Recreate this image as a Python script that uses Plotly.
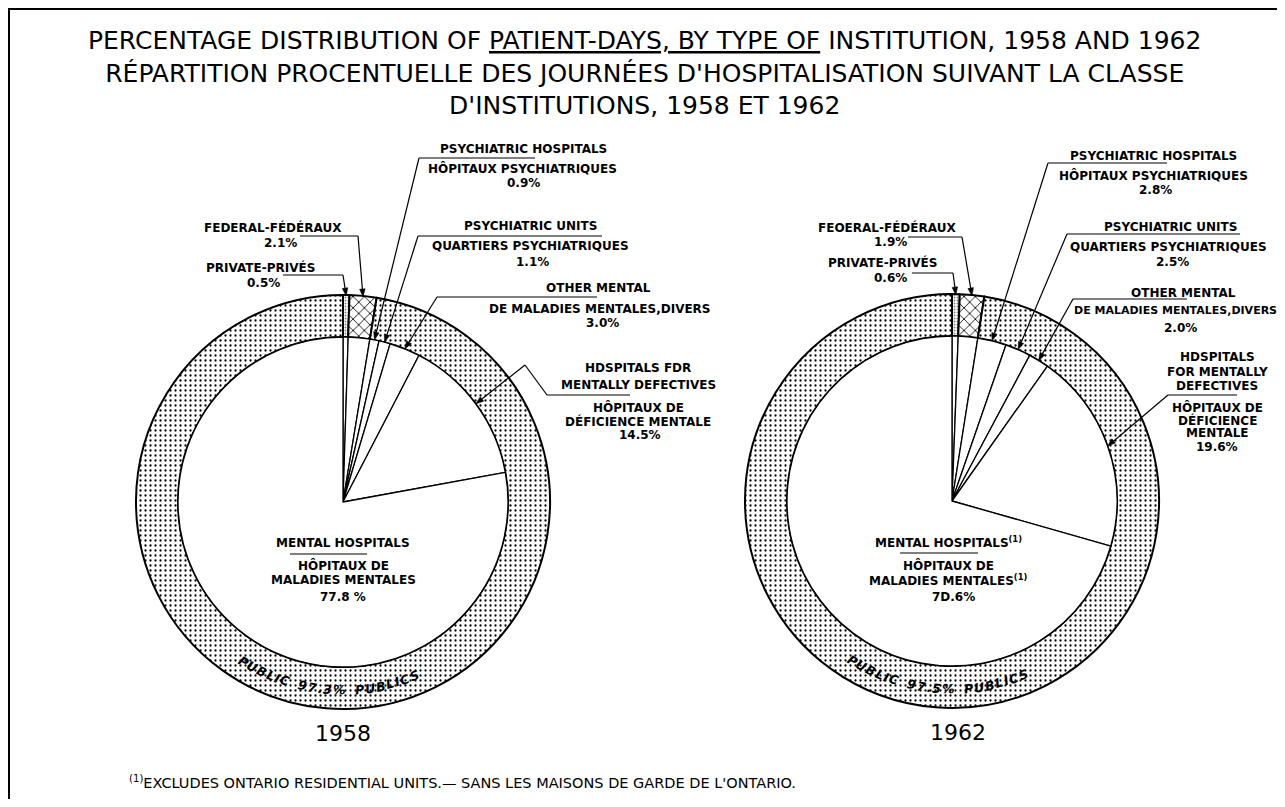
import math
import plotly.graph_objects as go

# ---------------- data ----------------
years = ["1958", "1962"]
categories = ["Private", "Federal", "Psychiatric hospitals", "Psychiatric units",
              "Other mental", "Hospitals for mentally defectives", "Mental hospitals"]
values_1958 = [0.5, 2.1, 0.9, 1.1, 3.0, 14.5, 77.8]
values_1962 = [0.6, 1.9, 2.8, 2.5, 2.0, 19.6, 70.6]
ownership = ["Private", "Federal", "Public"]
public_1958 = 97.3
public_1962 = 97.5

labels_1958 = [
    ["PRIVATE-PRIVÉS", "0.5%"],
    ["FEDERAL-FÉDÉRAUX", "2.1%"],
    ["PSYCHIATRIC HOSPITALS", "HÔPITAUX PSYCHIATRIQUES", "0.9%"],
    ["PSYCHIATRIC UNITS", "QUARTIERS PSYCHIATRIQUES", "1.1%"],
    ["OTHER MENTAL", "DE MALADIES MENTALES,DIVERS", "3.0%"],
    ["HDSPITALS FDR", "MENTALLY DEFECTIVES", "HÔPITAUX DE", "DÉFICIENCE MENTALE", "14.5%"],
    ["MENTAL HOSPITALS", "HÔPITAUX DE", "MALADIES MENTALES", "77.8 %"],
]
labels_1962 = [
    ["PRIVATE-PRIVÉS", "0.6%"],
    ["FEOERAL-FÉDÉRAUX", "1.9%"],
    ["PSYCHIATRIC HOSPITALS", "HÔPITAUX PSYCHIATRIQUES", "2.8%"],
    ["PSYCHIATRIC UNITS", "QUARTIERS PSYCHIATRIQUES", "2.5%"],
    ["OTHER MENTAL", "DE MALADIES MENTALES,DIVERS", "2.0%"],
    ["HDSPITALS", "FOR MENTALLY", "DEFECTIVES", "HÔPITAUX DE", "DÉFICIENCE", "MENTALE", "19.6%"],
    ["MENTAL HOSPITALS<sup>(1)</sup>", "HÔPITAUX DE", "MALADIES MENTALES<sup>(1)</sup>", "7D.6%"],
]
public_text = ["PUBLIC 97.3% PUBLICS", "PUBLIC 97.5% PUBLICS"]

title_lines = [
    "PERCENTAGE DISTRIBUTION OF <u>PATIENT-DAYS, BY TYPE OF</u> INSTITUTION, 1958 AND 1962",
    "RÉPARTITION PROCENTUELLE DES JOURNÉES D'HOSPITALISATION SUIVANT LA CLASSE",
    "D'INSTITUTIONS, 1958 ET 1962",
]
footnote = "<sup>(1)</sup>EXCLUDES ONTARIO RESIDENTIAL UNITS.— SANS LES MAISONS DE GARDE DE L'ONTARIO."

# ---------------- layout geometry (screen pixels) ----------------
W, H = 1269, 791
OFF = 8  # page body margin
R_OUT, R_IN = 207, 165
centers = [(343, 502), (952, 501)]

FONT = "DejaVu Sans"

fig = go.Figure()


def dom_x(x0, x1):
    return [(x0 - OFF) / W, (x1 - OFF) / W]


def dom_y(y0, y1):  # y0 top, y1 bottom in screen px
    return [1 - (y1 - OFF) / H, 1 - (y0 - OFF) / H]


annotations = []
shapes = []


def text(x, y, t, size=12, bold=True, xanchor="center", italic=False, angle=0, family=FONT):
    annotations.append(dict(
        x=x, y=y, xref="x", yref="y", text=t, showarrow=False,
        xanchor=xanchor, yanchor="middle", textangle=angle,
        font=dict(family=family, size=size, color="black",
                  weight="bold" if bold else "normal",
                  style="italic" if italic else "normal"),
    ))


def path(points, width=1.2, fill=None, close=False):
    d = "M " + " L ".join(f"{px:.2f} {py:.2f}" for px, py in points)
    if close:
        d += " Z"
    sh = dict(type="path", xref="x", yref="y", path=d,
              line=dict(color="black", width=width))
    if fill:
        sh["fillcolor"] = fill
    shapes.append(sh)


def arrow(tip, tail, length=8, half=2.8):
    dx, dy = tip[0] - tail[0], tip[1] - tail[1]
    n = math.hypot(dx, dy)
    ux, uy = dx / n, dy / n
    bx, by = tip[0] - length * ux, tip[1] - length * uy
    path([tail, (bx, by)], width=1.2)
    px, py = -uy, ux
    path([tip, (bx + half * px, by + half * py), (bx - half * px, by - half * py)],
         width=0.5, fill="black", close=True)


def tip_point(center, values, idx, r):
    total = sum(values)
    cum = sum(values[:idx]) + values[idx] / 2
    th = 2 * math.pi * cum / total
    return (center[0] + r * math.sin(th), center[1] - r * math.cos(th))


all_values = [values_1958, values_1962]
all_public = [public_1958, public_1962]

for k, (cx, cy) in enumerate(centers):
    vals = all_values[k]
    ring_vals = [vals[0], vals[1], all_public[k]]
    # outer ring: ownership
    fig.add_trace(go.Pie(
        labels=ownership, values=ring_vals, sort=False, direction="clockwise",
        rotation=0, hole=R_IN / R_OUT, textinfo="none", hoverinfo="label+value",
        showlegend=False,
        domain=dict(x=dom_x(cx - R_OUT, cx + R_OUT), y=dom_y(cy - R_OUT, cy + R_OUT)),
        marker=dict(colors=["white", "white", "white"],
                    line=dict(color="black", width=2),
                    pattern=dict(shape=[".", "x", "."], fgcolor=["#888888", "black", "black"],
                                 bgcolor="white", size=[3, 8, 5], solidity=[0.35, 0.2, 0.16],
                                 fillmode="replace")),
    ))
    # inner pie: type of institution
    fig.add_trace(go.Pie(
        labels=categories, values=vals, sort=False, direction="clockwise",
        rotation=0, textinfo="none", hoverinfo="label+value", showlegend=False,
        domain=dict(x=dom_x(cx - R_IN, cx + R_IN), y=dom_y(cy - R_IN, cy + R_IN)),
        marker=dict(colors=["white"] * len(vals), line=dict(color="black", width=1.3)),
    ))

# ---- label placements (screen px) ----
place = [
    {  # 1958
        "lines": [
            [(260, 267), (263, 283)],
            [(273, 227), (280, 243)],
            [(523, 149), (522, 168), (523, 183)],
            [(530, 226), (530, 246), (532, 262)],
            [(598, 288), (600, 309), (602, 323)],
            [(638, 368), (638, 385), (638, 407), (638, 421), (640, 435)],
            [(343, 543), (343, 565), (343, 580), (343, 597)],
        ],
        "leaders": [
            [(283, 275), (343, 275)],
            [(300, 236), (358, 236)],
            [(535, 158), (419, 158)],
            [(602, 236), (418, 236)],
            [(597, 297), (437, 297)],
            [(630, 395), (547, 395), (525, 365)],
        ],
        "underline": [(290, 554), (367, 554)],
        "year": (343, 733),
    },
    {  # 1962
        "lines": [
            [(882, 262), (890, 278)],
            [(887, 227), (890, 242)],
            [(1153, 156), (1153, 175), (1155, 190)],
            [(1170, 227), (1168, 247), (1172, 262)],
            [(1183, 293), (1175, 310), (1180, 328)],
            [(1217, 357), (1217, 372), (1217, 386), (1217, 407), (1217, 420), (1217, 433), (1217, 447)],
            [(948, 542), (948, 565), (948, 580), (953, 597)],
        ],
        "leaders": [
            [(912, 273), (953, 273)],
            [(908, 237), (962, 237)],
            [(1167, 163), (1048, 163)],
            [(1240, 234), (1067, 234)],
            [(1187, 299), (1073, 299)],
            [(1237, 395), (1168, 395)],
        ],
        "underline": [(900, 553), (978, 553)],
        "year": (958, 732),
    },
]

all_labels = [labels_1958, labels_1962]
for k in range(2):
    c = centers[k]
    vals = all_values[k]
    pl = place[k]
    for i, lines in enumerate(all_labels[k]):
        for t, (x, y) in zip(lines, pl["lines"][i]):
            sz = 11 if (k == 1 and "DIVERS" in t) else 12
            text(x, y, t, size=sz)
    for i, pts in enumerate(pl["leaders"]):
        r = R_OUT - 1 if i < 2 else R_IN
        tip = tip_point(c, vals, i, r)
        if len(pts) > 1:
            path(pts)
        arrow(tip, pts[-1])
    path(pl["underline"])
    text(pl["year"][0], pl["year"][1], years[k], size=22, bold=False)

    # curved PUBLIC text along the bottom of the ring
    widths = {"P": .733, "U": .812, "B": .762, "L": .637, "I": .372, "C": .734, " ": .6,
              "9": .696, "7": .696, ".": .38, "3": .696, "5": .696, "%": 1.002, "S": .72}
    fs, track, r_txt, shift = 12.5, 1.0, 188, -16
    s = public_text[k]
    adv = [widths.get(ch, .7) * fs + track for ch in s]
    total = sum(adv)
    pos = -total / 2 + shift
    for ch, a in zip(s, adv):
        mid = pos + a / 2
        pos += a
        if ch == " ":
            continue
        th = mid / r_txt
        x = c[0] + r_txt * math.sin(th)
        y = c[1] + r_txt * math.cos(th)
        text(x, y, ch, size=fs, bold=True, italic=True, angle=-math.degrees(th))

# ---- titles and footnote ----
text(644, 73, "<br>".join(title_lines), size=25, bold=False)
text(127, 782, footnote, size=14.5, bold=False, xanchor="left")

# ---- frame ----
path([(OFF + 1, 799), (OFF + 1, OFF + 1), (OFF + W, OFF + 1)], width=2)

fig.update_layout(
    width=W, height=H,
    margin=dict(l=0, r=0, t=0, b=0),
    paper_bgcolor="white", plot_bgcolor="white",
    xaxis=dict(range=[OFF, OFF + W], visible=False, fixedrange=True),
    yaxis=dict(range=[OFF + H, OFF], visible=False, fixedrange=True),
    annotations=annotations,
    shapes=shapes,
)

fig.write_html("out.html")
